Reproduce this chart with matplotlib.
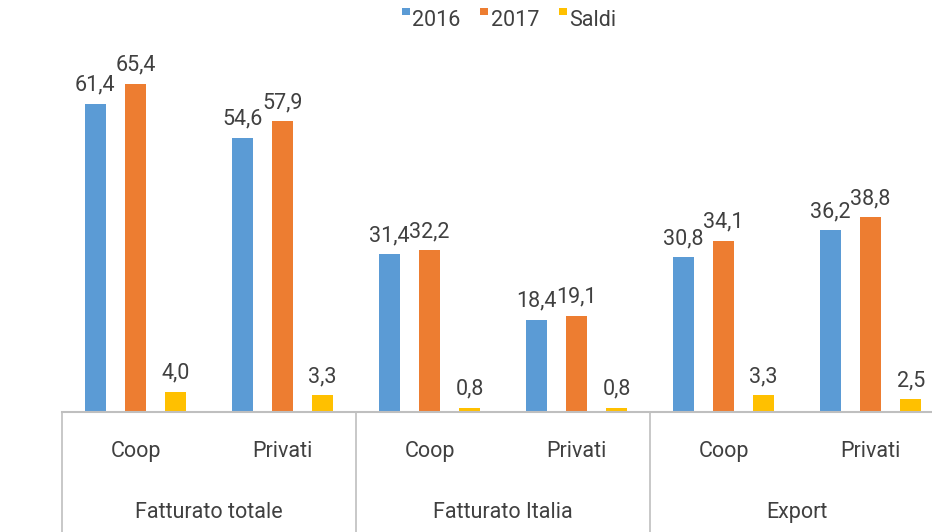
import matplotlib.pyplot as plt
from matplotlib.lines import Line2D
from matplotlib.path import Path
import matplotlib.transforms as mtransforms

plt.rcParams['font.family'] = ['Roboto', 'DejaVu Sans']

groups = ['Fatturato totale', 'Fatturato Italia', 'Export']
subcats = ['Coop', 'Privati']
series_names = ['2016', '2017', 'Saldi']
vals_2016 = [61.4, 54.6, 31.4, 18.4, 30.8, 36.2]
vals_2017 = [65.4, 57.9, 32.2, 19.1, 34.1, 38.8]
saldi = [4.0, 3.3, 0.8, 0.8, 3.3, 2.5]

colors = ['#5B9BD5', '#ED7D31', '#FFC000']
text_col = '#404040'
line_col = '#BFBFBF'

fig = plt.figure(figsize=(9.32, 5.32), dpi=100)
# axes runs past the right edge, as in the cropped original
ax = fig.add_axes([62 / 932, 120 / 532, 882 / 932, 412 / 532])

offsets = [-0.273, 0.0, 0.273]
width = 0.138
n = len(vals_2016)
for series, off, col in zip([vals_2016, vals_2017, saldi], offsets, colors):
    xs = [i + 0.5 + off for i in range(n)]
    ax.bar(xs, series, width=width, color=col, zorder=2)
    for x, v in zip(xs, series):
        ax.annotate(f'{v:.1f}'.replace('.', ','), (x, v), xytext=(0, 6),
                    textcoords='offset points', ha='center', va='bottom',
                    fontsize=15.5, color=text_col)

ax.set_xlim(0, n)
ax.set_ylim(0, 82.1)
for s in ['top', 'left', 'right']:
    ax.spines[s].set_visible(False)
ax.spines['bottom'].set_color(line_col)
ax.spines['bottom'].set_linewidth(1.5)
ax.set_xticks([])
ax.set_yticks([])

# multi-level category axis
trans = mtransforms.blended_transform_factory(ax.transData, ax.transAxes)
for g in range(len(groups) + 1):
    ax.plot([g * 2, g * 2], [0, -0.3], color=line_col, lw=1.2,
            transform=trans, clip_on=False)
for i in range(n):
    ax.text(i + 0.5, -0.097, subcats[i % 2], transform=trans, ha='center',
            va='center', fontsize=15.5, color=text_col)
for g, name in enumerate(groups):
    ax.text(g * 2 + 1, -0.243, name, transform=trans, ha='center',
            va='center', fontsize=15.5, color=text_col)

# small raised square as legend key
raised_sq = Path([(-0.5, 0.4), (0.5, 0.4), (0.5, 1.4), (-0.5, 1.4), (-0.5, 0.4)],
                 [Path.MOVETO, Path.LINETO, Path.LINETO, Path.LINETO, Path.CLOSEPOLY])
handles = [Line2D([], [], marker=raised_sq, ls='', color=c, markersize=15,
                  markeredgewidth=0) for c in colors]
fig.legend(handles, series_names, loc='center', bbox_to_anchor=(0.545, 0.962),
           ncol=3, frameon=False, fontsize=15.5, handletextpad=0.0,
           columnspacing=0.8, handlelength=0.6, labelcolor=text_col)

fig.savefig('out.png', dpi=100, facecolor='white')
